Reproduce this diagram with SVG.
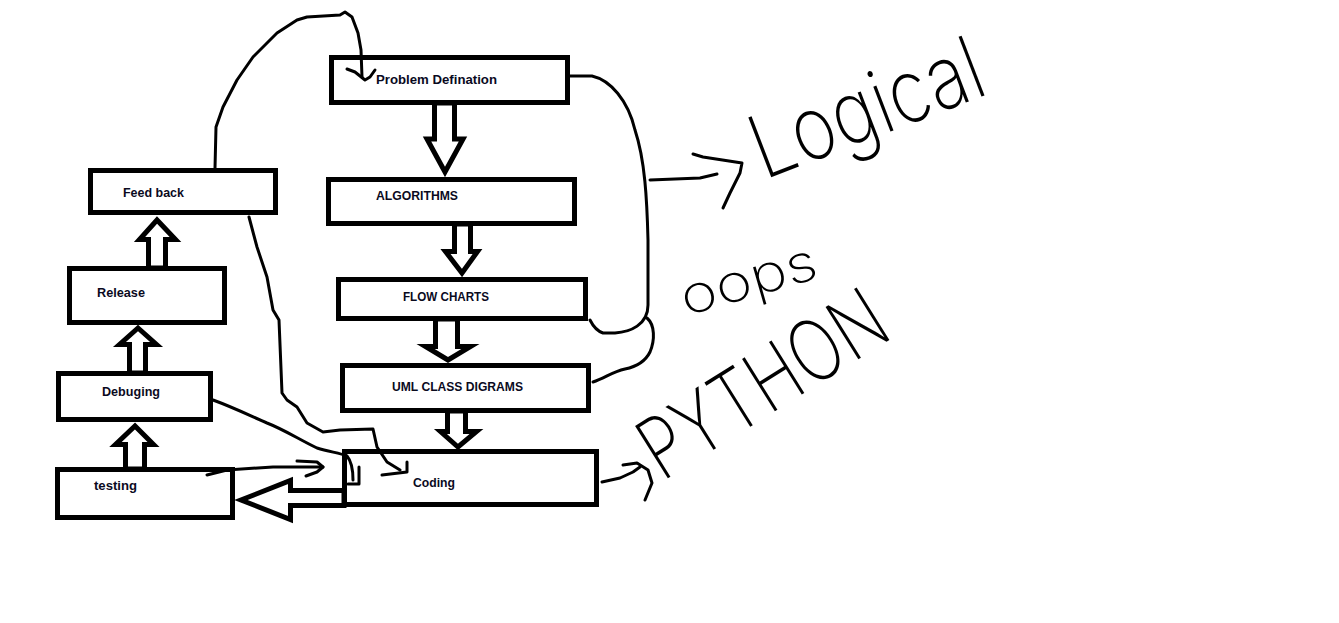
<svg xmlns="http://www.w3.org/2000/svg" width="1339" height="623" viewBox="0 0 1339 623">
<style>
.box{fill:#fff;stroke:#000;stroke-width:5}
.blk{fill:#fff;stroke:#000;stroke-width:5;stroke-linejoin:miter}
.lbl{font-family:"Liberation Sans",Arial,sans-serif;font-weight:bold;font-size:13px;fill:#0a0a1e}
.hand{fill:none;stroke:#000;stroke-width:3;stroke-linecap:round;stroke-linejoin:round}
.hw{font-family:Inter,"Open Sans","DejaVu Sans",sans-serif;font-weight:200;fill:#000}
</style>
<rect width="1339" height="623" fill="#fff"/>
<g id="problem"><rect class="box" x="331.5" y="57.5" width="236" height="45"/><text class="lbl" x="376" y="84" textLength="121" lengthAdjust="spacingAndGlyphs">Problem Defination</text></g>
<g id="algorithms"><rect class="box" x="328.5" y="179.5" width="246" height="44"/><text class="lbl" x="376" y="200" textLength="82" lengthAdjust="spacingAndGlyphs">ALGORITHMS</text></g>
<g id="flowcharts"><rect class="box" x="338.5" y="279.5" width="247" height="39"/><text class="lbl" x="403" y="301" textLength="86" lengthAdjust="spacingAndGlyphs">FLOW CHARTS</text></g>
<g id="uml"><rect class="box" x="342.5" y="365.5" width="246" height="45"/><text class="lbl" x="392" y="391" textLength="131" lengthAdjust="spacingAndGlyphs">UML CLASS DIGRAMS</text></g>
<g id="coding"><rect class="box" x="344.5" y="451.5" width="252" height="53"/><text class="lbl" x="413" y="487" textLength="42" lengthAdjust="spacingAndGlyphs">Coding</text></g>
<g id="feedback"><rect class="box" x="90.5" y="170.5" width="185" height="42"/><text class="lbl" x="123" y="197" textLength="61" lengthAdjust="spacingAndGlyphs">Feed back</text></g>
<g id="release"><rect class="box" x="69.5" y="268.5" width="155" height="54"/><text class="lbl" x="97" y="297" textLength="48" lengthAdjust="spacingAndGlyphs">Release</text></g>
<g id="debuging"><rect class="box" x="58.5" y="373.5" width="152" height="46"/><text class="lbl" x="102" y="396" textLength="58" lengthAdjust="spacingAndGlyphs">Debuging</text></g>
<g id="testing"><rect class="box" x="57.5" y="469.5" width="175" height="48"/><text class="lbl" x="94" y="490" textLength="43" lengthAdjust="spacingAndGlyphs">testing</text></g>
<g id="connectors">
  <polygon class="blk" points="434.5,103 434.5,139 427,139 445,172 463,139 454.5,139 454.5,103"/>
  <polygon class="blk" points="454.5,224 454.5,251.5 445.5,251.5 462,273 477.5,251.5 470.5,251.5 470.5,224"/>
  <polygon class="blk" points="435.5,319 435.5,346.5 425.5,346.5 448,360 470.5,346.5 457.5,346.5 457.5,319"/>
  <polygon class="blk" points="447.5,411 447.5,431.5 440.5,431.5 458,447 476.5,431.5 465.5,431.5 465.5,411"/>
  <polygon class="blk" points="148.5,268 148.5,239.5 139.5,239.5 157,220 175.5,239.5 165.5,239.5 165.5,268"/>
  <polygon class="blk" points="129.5,373 129.5,344.5 119.5,344.5 138,328 156.5,344.5 145.5,344.5 145.5,373"/>
  <polygon class="blk" points="125.5,469 125.5,444.5 115.5,444.5 135,426 153.5,444.5 144.5,444.5 144.5,469"/>
  <polygon class="blk" points="344,490.5 290.5,490.5 290.5,480.5 241,500 290.5,519.5 290.5,505.5 344,505.5"/>
  <path class="hand" d="M215,168 L216,127 L223,107 L237,80 L253,57 L277,33 L297,20 L307,17 L340,15 L345,12 L352,17 L358,33 L361,50 L362,77"/>
  <path class="hand" d="M347,69 L355,72 L365,80 L370,77 L375,70"/>
  <path class="hand" d="M570,76 L592,76 C610,80 628,100 635,130 C645,160 647,200 648,240 L648,305 C648,325 630,332 615,333 L603,333 C597,331 593,326 590,320"/>
  <path class="hand" d="M647,318 C655,325 655,340 650,352 C645,362 635,367 625,369 C612,372 605,378 593,382"/>
  <path class="hand" d="M650,180 L700,178 L717,174"/>
  <path class="hand" d="M693,154 L703,157 L742,163 L740,173 L730,193 L723,208"/>
  <path class="hand" d="M602,482 L620,478 L633,472 L640,467"/>
  <path class="hand" d="M623,465 L637,463 L648,470 L652,483 L645,500"/>
  <path class="hand" d="M213,400 C235,408 255,418 267,423 C285,430 300,440 317,448 C330,452 340,453 347,456 C352,462 353,470 353,480"/>
  <path class="hand" d="M348,484 L359,484 L359,467"/>
  <path class="hand" d="M249,217 L257,247 L267,277 L273,310 L279,320 L282,393 L287,400 L297,407 L307,423 L323,432 L340,430 L373,429 L377,447 L387,462 L400,470"/>
  <path class="hand" d="M382,475 L407,472 L407,462"/>
  <path class="hand" d="M207,475 L227,470 L273,467 L323,467"/>
  <path class="hand" d="M297,461 L317,462 L323,467 L317,472 L306,476"/>
</g>
<g id="notes">
  <text class="hw" font-size="88" transform="translate(764,180) rotate(-21) scale(0.84,1)">Logical</text>
  <text class="hw" font-size="52" transform="translate(686,316) rotate(-16)" textLength="140" lengthAdjust="spacingAndGlyphs">oops</text>
  <text class="hw" font-size="85" transform="translate(662,482) rotate(-32)" textLength="275" lengthAdjust="spacingAndGlyphs">PYTHON</text>
</g>
</svg>
